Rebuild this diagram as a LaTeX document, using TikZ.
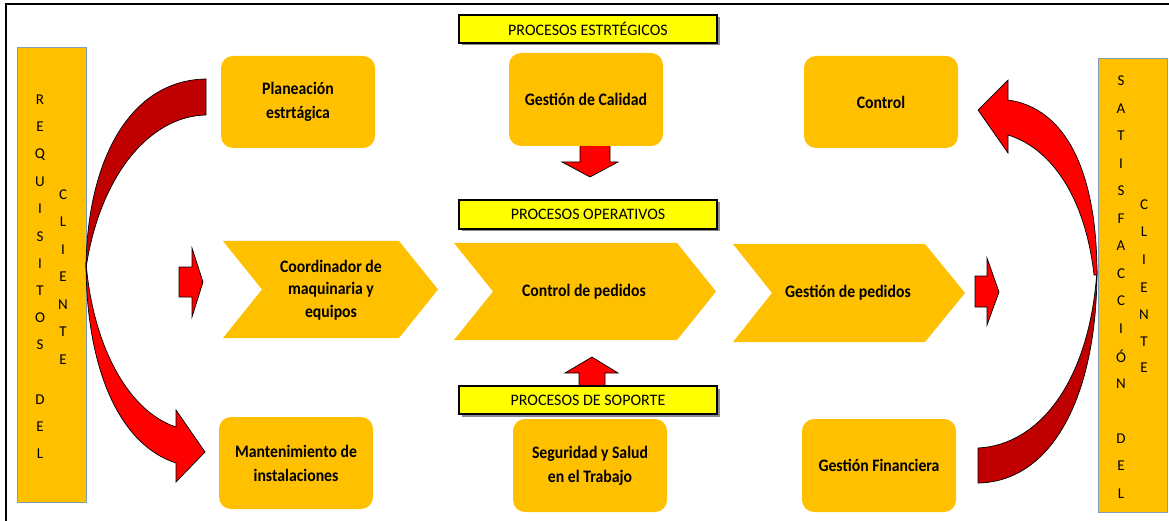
\documentclass[tikz,border=0pt]{standalone}
\usepackage{fontspec}
\setmainfont{Carlito}
\newfontfamily\condfont[FakeStretch=0.9]{Carlito}
\definecolor{orng}{HTML}{FFC000}
\definecolor{ylw}{HTML}{FFFF00}
\definecolor{dred}{HTML}{C00000}
\definecolor{bred}{HTML}{FF0000}
\definecolor{colborder}{HTML}{7F9DB9}
\begin{document}
\begin{tikzpicture}[x=1pt,y=-1pt,
  pbox/.style={fill=orng, rounded corners=12pt, minimum width=154pt, minimum height=92pt,
    inner sep=0pt, align=center, font=\condfont\fontsize{17.5}{24}\selectfont\bfseries},
  lbl/.style={fill=ylw, draw=black, line width=2pt, minimum width=258pt, minimum height=28pt,
    inner sep=0pt, font=\fontsize{16}{18}\selectfont},
  lblshadow/.style={fill=black!45},
  colbox/.style={fill=orng, draw=colborder, line width=0.8pt},
  chev/.style={fill=orng},
  chevtext/.style={align=center, inner sep=0pt, font=\condfont\fontsize{17.5}{22.5}\selectfont\bfseries},
  letter/.style={inner sep=0pt, font=\fontsize{15}{16}\selectfont},
  redarrow/.style={fill=bred, draw=black, line width=0.7pt, line join=miter},
  darkarrow/.style={fill=dred, draw=black, line width=0.7pt},
  frame/.style={draw=black, line width=2pt}
]
\useasboundingbox (0,0) rectangle (1169,521);
\fill[white] (0,0) rectangle (1169,521);
% outer frame (top and left visible)
\draw[frame] (6,521) -- (6,4) -- (1169,4);

% side columns
\draw[colbox] (17,47) rectangle (86,502);
\draw[colbox] (1098,58) rectangle (1167,512);
\node[coordinate] (colL) at (86,268) {};
\node[coordinate] (colR) at (1097,270) {};

% left column letters
\foreach \ch/\yy in {R/100,E/127,Q/155,U/182,I/209,S/237,I/264,T/291,O/318,S/345,D/400,E/427,L/454}
  \node[letter] at (40,\yy) {\ch};
\foreach \ch/\yy in {C/195,L/222,I/250,E/277,N/305,T/332,E/360}
  \node[letter] at (63,\yy) {\ch};
% right column letters
\foreach \ch/\yy in {S/81,A/109,T/136,I/164,S/191,F/219,A/246,C/274,C/301,I/329,Ó/356,N/384,D/439,E/466,L/494}
  \node[letter] at (1121,\yy) {\ch};
\foreach \ch/\yy in {C/205,L/232,I/260,E/288,N/315,T/342,E/368}
  \node[letter] at (1144,\yy) {\ch};

% rounded boxes
\node[pbox] (plan) at (298,102) {Planeación\\estrtágica};
\node[pbox, minimum height=93pt] (cal) at (586,99.5) {Gestión de Calidad};
\node[pbox] (ctrl) at (881,102) {Control};
\node[pbox] (mant) at (296,463) {Mantenimiento de\\instalaciones};
\node[pbox, minimum height=93pt] (seg) at (590,465.5) {Seguridad y Salud\\en el Trabajo};
\node[pbox, minimum height=93pt] (fin) at (879,465.5) {Gestión Financiera};

% chevrons
\fill[chev] (223,241) -- (399,241) -- (438,289.5) -- (399,338) -- (223,338) -- (262,289.5) -- cycle;
\node[chevtext] (coord) at (331,290) {Coordinador de\\maquinaria y\\equipos};
\fill[chev] (454,243) -- (677,243) -- (716,291.5) -- (677,340) -- (454,340) -- (493,291.5) -- cycle;
\node[chevtext] (cped) at (584,292) {Control de pedidos};
\fill[chev] (733,244) -- (925,244) -- (965,293) -- (925,342) -- (733,342) -- (772,293) -- cycle;
\node[chevtext] (gped) at (848,293) {Gestión de pedidos};

% small right arrows
\draw[redarrow] (179,267) -- (192,267) -- (192,248) -- (203,282) -- (192,317) -- (192,297) -- (179,297) -- cycle;
\draw[redarrow] (975,276) -- (987,276) -- (987,258) -- (999,292) -- (987,325) -- (987,307) -- (975,307) -- cycle;

% down arrow from Gestión de Calidad
\draw[redarrow] (cal.south -| 580,0) -- (580,162) -- (562,162) -- (590,177) -- (618,162) -- (610,162) -- (cal.south -| 610,0);
% labels with shadows
\fill[lblshadow] (461.5,17.5) rectangle (719.5,45.5);
\node[lbl] (lest) at (588,29) {PROCESOS ESTRTÉGICOS};
\fill[lblshadow] (461.5,202.5) rectangle (719.5,231.5);
\node[lbl, minimum height=29pt] (lope) at (588,214.5) {PROCESOS OPERATIVOS};

% up arrow to Control de pedidos
\draw[redarrow] (579,386) -- (579,373) -- (565,373) -- (592,357) -- (618,373) -- (605,373) -- (605,386);
\fill[lblshadow] (461.5,388.5) rectangle (719.5,416.5);
\node[lbl] (lsop) at (588,400) {PROCESOS DE SOPORTE};

% left curved arrow: Planeación -> column -> Mantenimiento
\draw[darkarrow] (206,79) .. controls (130,80) and (87,160) .. (colL)
  .. controls (100,175) and (150,116) .. (206,115) -- cycle;
\draw[redarrow] (86,262) .. controls (86,370) and (120,445) .. (176,463)
  -- (176,482) -- (205,452) -- (176,410) -- (176,427)
  .. controls (125,410) and (92,340) .. (86,262) -- cycle;

% right curved arrow: Gestión Financiera -> column -> Control
\draw[darkarrow] (978,483) .. controls (1050,482) and (1097,400) .. (colR)
  .. controls (1090,380) and (1040,445) .. (978,448) -- cycle;
\draw[redarrow] (1097,275) .. controls (1097,170) and (1065,108) .. (1008,100)
  -- (1008,80) -- (978,110) -- (1008,153) -- (1008,135)
  .. controls (1050,148) and (1085,195) .. (1094,275) -- cycle;
\end{tikzpicture}
\end{document}
